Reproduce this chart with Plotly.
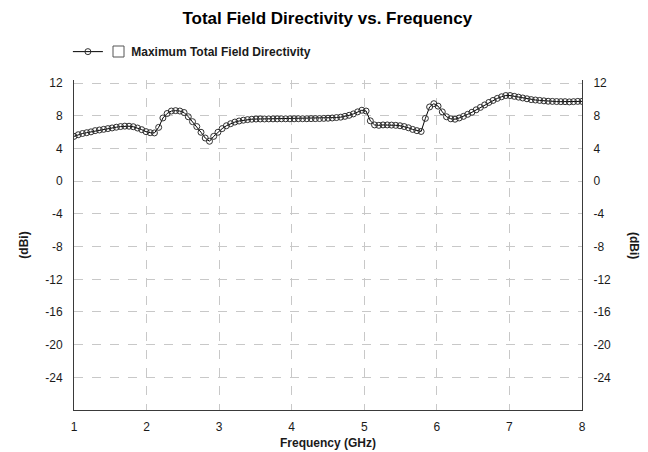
import numpy as np
import plotly.graph_objects as go

freq_ghz = np.linspace(1.0, 8.0, 121)
directivity_dbi = [
    5.5, 5.7, 5.85, 5.95, 6.05, 6.2, 6.28, 6.36, 6.45, 6.53,
    6.62, 6.7, 6.75, 6.74, 6.68, 6.52, 6.32, 6.08, 5.95, 5.92,
    6.6, 7.75, 8.3, 8.6, 8.65, 8.6, 8.42, 7.9, 7.3, 6.7,
    6.0, 5.3, 4.9, 5.5, 6.0, 6.45, 6.8, 7.05, 7.25, 7.38,
    7.48, 7.55, 7.6, 7.62, 7.63, 7.63, 7.64, 7.64, 7.64, 7.65,
    7.65, 7.65, 7.65, 7.66, 7.66, 7.66, 7.67, 7.67, 7.68, 7.7,
    7.72, 7.75, 7.8, 7.85, 7.95, 8.08, 8.25, 8.5, 8.7, 8.6,
    7.4, 6.9, 6.85, 6.9, 6.9, 6.88, 6.85, 6.8, 6.7, 6.55,
    6.35, 6.2, 6.1, 7.7, 9.1, 9.5, 9.2, 8.5, 7.9, 7.65,
    7.6, 7.75, 7.95, 8.2, 8.45, 8.75, 9.05, 9.35, 9.65, 9.9,
    10.15, 10.35, 10.5, 10.5, 10.4, 10.3, 10.2, 10.1, 10.0, 9.95,
    9.9, 9.85, 9.8, 9.78, 9.76, 9.75, 9.75, 9.72, 9.75, 9.78,
    9.78,
]
y_tickvals = [12, 8, 4, 0, -4, -8, -12, -16, -20, -24]
y_ticktext = ["12", "8", "4", "0", "-4", "-8", "-12", "-16", "-20", "-24"]
x_tickvals = [1, 2, 3, 4, 5, 6, 7, 8]
series_name = "Maximum Total Field Directivity"

W, H = 648, 452
ML, MR, MT, MB = 74, 66, 80, 42
FONT = "Arial, Liberation Sans"

fig = go.Figure()
fig.add_trace(go.Scatter(
    x=freq_ghz, y=directivity_dbi, mode="lines+markers",
    name="<b>\u00a0\u00a0\u00a0\u00a0\u00a0\u00a0\u00a0" + series_name + "</b>",
    line=dict(color="#000000", width=1),
    marker=dict(symbol="circle-open", size=6, color="#303030", line=dict(width=1)),
))
fig.add_trace(go.Scatter(
    x=freq_ghz, y=directivity_dbi, yaxis="y2", mode="lines",
    line=dict(color="rgba(0,0,0,0)"), showlegend=False, hoverinfo="skip",
))

grid = dict(showgrid=True, gridcolor="#c8c8c8", griddash="dash", gridwidth=1)
tickfont = dict(family=FONT, size=12, color="#1a1a1a")

fig.update_layout(
    width=W, height=H,
    margin=dict(l=ML, r=MR, t=MT, b=MB, autoexpand=False),
    paper_bgcolor="white", plot_bgcolor="white",
    title=dict(text="<b>Total Field Directivity vs. Frequency</b>",
               x=0.505, xanchor="center", y=0.96, yanchor="middle",
               font=dict(family=FONT, size=17, color="#000000")),
    xaxis=dict(range=[1, 8], tickvals=x_tickvals, ticks="", showline=True,
               linecolor="#3a3a3a", linewidth=1, zeroline=False, tickfont=tickfont,
               ticklabelstandoff=6, automargin=False,
               title=dict(text="<b>Frequency (GHz)</b>", standoff=5,
                          font=dict(family=FONT, size=12, color="#1a1a1a")),
               **grid),
    yaxis=dict(range=[-28, 12.4], tickvals=y_tickvals, ticktext=y_ticktext, ticks="",
               showline=True, linecolor="#3a3a3a", linewidth=1, zeroline=False,
               tickfont=tickfont, ticklabelstandoff=8, automargin=False,
               title=dict(text="<b>(dBi)</b>", standoff=14,
                          font=dict(family=FONT, size=12, color="#1a1a1a")),
               **grid),
    yaxis2=dict(range=[-28, 12.4], tickvals=y_tickvals, ticktext=y_ticktext, ticks="",
                showline=True, linecolor="#3a3a3a", linewidth=1, zeroline=False,
                tickfont=tickfont, ticklabelstandoff=8, automargin=False,
                overlaying="y", side="right", showgrid=False),
    showlegend=True,
    legend=dict(x=-0.012, y=1.042, xanchor="left", yanchor="bottom",
                bgcolor="rgba(0,0,0,0)", borderwidth=0,
                font=dict(family=FONT, size=12, color="#1a1a1a")),
    annotations=[dict(text="<b>(dBi)</b>", xref="paper", yref="paper",
                      x=1 + 61 / (W - ML - MR), y=0.5, textangle=90, showarrow=False,
                      font=dict(family=FONT, size=12, color="#1a1a1a"))],
)

pw = W - ML - MR
ph = H - MT - MB
def px2x(px):
    return (px - ML) / pw
def py2y(py):
    return (H - MB - py) / ph

fig.add_shape(type="rect", xref="paper", yref="paper",
              x0=px2x(113), x1=px2x(124), y0=py2y(57), y1=py2y(46),
              line=dict(color="#555555", width=1), fillcolor="white")

fig.write_html("out.html")
